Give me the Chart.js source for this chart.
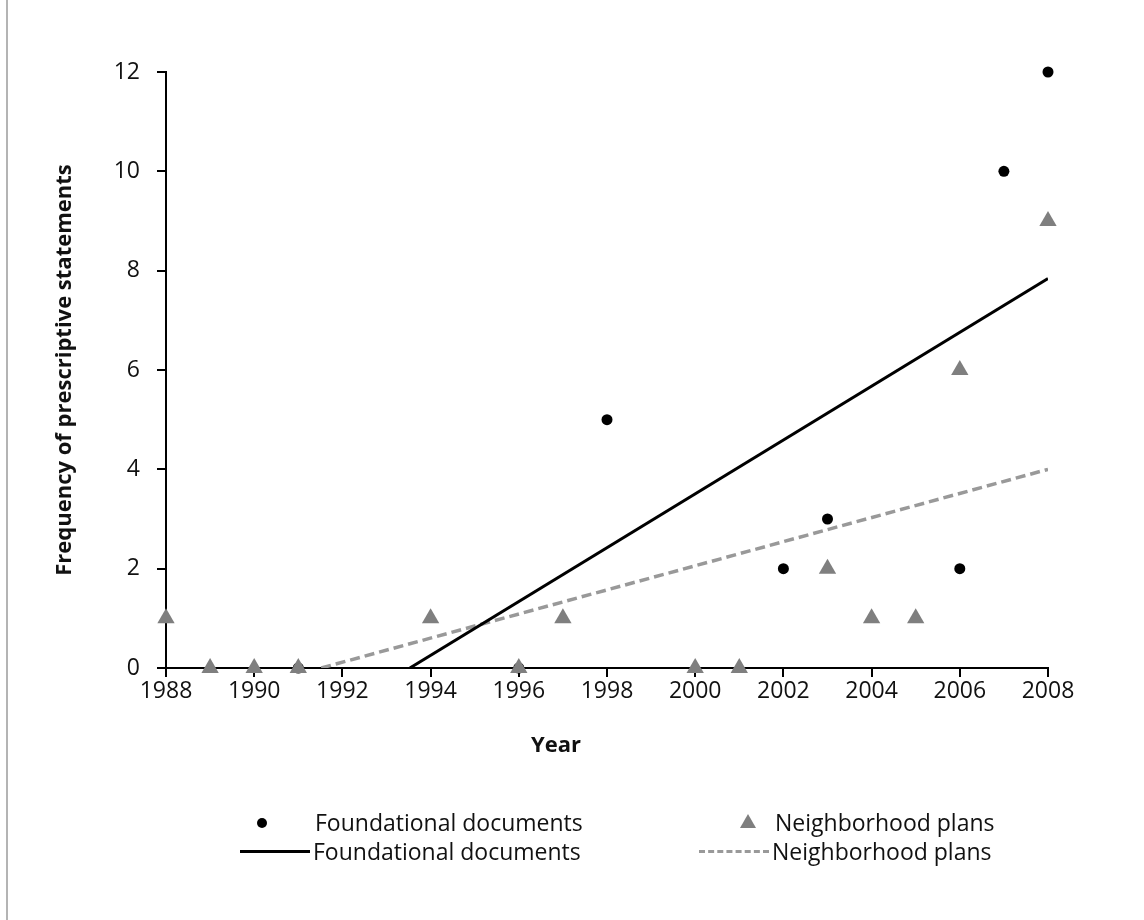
<!DOCTYPE html>
<html>
<head>
<meta charset="utf-8">
<script src="https://cdn.jsdelivr.net/npm/chart.js@4.4.1/dist/chart.umd.min.js"></script>
<style>
  body { margin: 0; background: #fff; }
  #wrap { position: relative; width: 1144px; height: 920px; }
  #edge { position: absolute; left: 6px; top: 0; width: 2px; height: 920px; background: #b4b4b4; }
  .leg { position: absolute; font-family: "Open Sans", sans-serif; font-size: 23px; color: #111; line-height: 28px; white-space: nowrap; }
  .ttl { position: absolute; font-family: "Open Sans", sans-serif; font-size: 22px; font-weight: bold; color: #111; line-height: 28px; }
  .dot { position: absolute; width: 10px; height: 10px; border-radius: 50%; background: #000; }
  .tri { position: absolute; width: 0; height: 0; border-left: 8px solid transparent; border-right: 8px solid transparent; border-bottom: 14px solid #7f7f7f; }
  .solid { position: absolute; height: 0; border-top: 3px solid #000; }
  .dash { position: absolute; height: 0; border-top: 3px dashed #999; }
</style>
</head>
<body>
<div id="wrap">
  <canvas id="chart" width="1144" height="920"></canvas>
  <div id="edge"></div>
  <div class="ttl" style="left:531px; top:729px;">Year</div>
  <div class="dot" style="left:257px; top:818px;"></div>
  <div class="leg" style="left:315px; top:808px;">Foundational documents</div>
  <div class="tri" style="left:740px; top:814px;"></div>
  <div class="leg" style="left:775px; top:808px;">Neighborhood plans</div>
  <div class="solid" style="left:240px; top:850px; width:70px;"></div>
  <div class="leg" style="left:313px; top:837px;">Foundational documents</div>
  <div class="dash" style="left:699px; top:850px; width:70px;"></div>
  <div class="leg" style="left:772px; top:837px;">Neighborhood plans</div>
</div>
<script>
// Foundational documents (black circles)
const foundYears = [1991, 1996, 1998, 2002, 2003, 2006, 2007, 2008];
const foundCounts = [0, 0, 5, 2, 3, 2, 10, 12];

// Neighborhood plans (grey triangles)
const neighYears = [1988, 1989, 1990, 1991, 1994, 1996, 1997, 2000, 2001, 2003, 2004, 2005, 2006, 2008];
const neighCounts = [1, 0, 0, 0, 1, 0, 1, 0, 0, 2, 1, 1, 6, 9];

// linear trend lines, as drawn (clipped at 0)
const foundTrendX = [1993.53, 2008];
const foundTrendY = [0, 7.84];
const neighTrendX = [1991.52, 2008];
const neighTrendY = [0, 4.0];

const xTicks = [1988, 1990, 1992, 1994, 1996, 1998, 2000, 2002, 2004, 2006, 2008];
const yTicks = [0, 2, 4, 6, 8, 10, 12];

function pts(xs, ys) {
  return xs.map((x, i) => ({ x: x, y: ys[i] }));
}

const tickFont = { family: "Open Sans", size: 23 };

new Chart(document.getElementById("chart"), {
  type: "scatter",
  data: {
    datasets: [
      {
        label: "Neighborhood plans",
        data: pts(neighYears, neighCounts),
        pointStyle: "triangle",
        pointRadius: 10,
        pointHoverRadius: 10,
        backgroundColor: "#7f7f7f",
        borderColor: "#7f7f7f",
        borderWidth: 0,
        clip: false,
        order: 1
      },
      {
        label: "Foundational documents",
        data: pts(foundYears, foundCounts),
        pointStyle: "circle",
        pointRadius: 5.5,
        backgroundColor: "#000",
        borderColor: "#000",
        borderWidth: 0,
        clip: false,
        order: 2
      },
      {
        label: "Foundational documents",
        type: "line",
        data: pts(foundTrendX, foundTrendY),
        borderColor: "#000",
        borderWidth: 3,
        pointRadius: 0,
        fill: false,
        order: 0
      },
      {
        label: "Neighborhood plans",
        type: "line",
        data: pts(neighTrendX, neighTrendY),
        borderColor: "#999",
        borderWidth: 3.5,
        borderDash: [10, 5],
        pointRadius: 0,
        fill: false,
        order: 0
      }
    ]
  },
  options: {
    responsive: false,
    animation: false,
    layout: { padding: { left: 0, top: 72, right: 96, bottom: 152 } },
    plugins: { legend: { display: false }, tooltip: { enabled: false } },
    scales: {
      x: {
        type: "linear",
        min: 1988,
        max: 2008,
        afterBuildTicks: s => { s.ticks = xTicks.map(v => ({ value: v })); },
        afterFit: s => { s.height = 100; },
        ticks: { color: "#111", font: tickFont, padding: 1, maxRotation: 0, callback: v => String(v) },
        grid: { drawOnChartArea: false, color: "#000", lineWidth: 2, tickLength: 9 },
        border: { color: "#000", width: 2 }
      },
      y: {
        min: 0,
        max: 12,
        afterBuildTicks: s => { s.ticks = yTicks.map(v => ({ value: v })); },
        afterFit: s => { s.width = 166; },
        ticks: { color: "#111", font: tickFont, padding: 17 },
        grid: { drawOnChartArea: false, color: "#000", lineWidth: 2, tickLength: 9 },
        border: { color: "#000", width: 2 },
        title: { display: true, text: "Frequency of prescriptive statements", color: "#111", font: { family: "Open Sans", size: 22, weight: "bold" }, padding: { top: 52, bottom: 0 } }
      }
    }
  }
});
</script>
</body>
</html>
